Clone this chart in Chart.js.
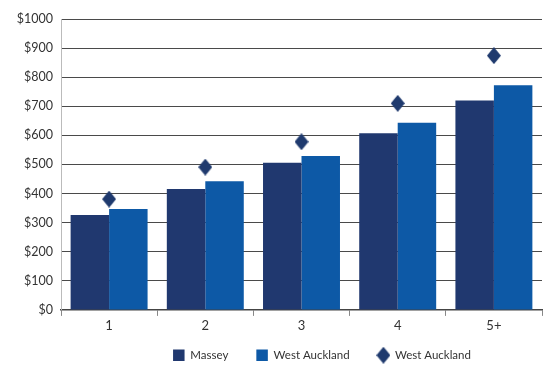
<!DOCTYPE html>
<html>
<head>
<meta charset="utf-8">
<script src="https://cdn.jsdelivr.net/npm/chart.js@4"></script>
<style>
html,body{margin:0;padding:0;background:#fff;}
#wrap{width:550px;height:367px;}
</style>
</head>
<body>
<div id="wrap"><canvas id="c" width="550" height="367"></canvas></div>
<script>
const categories = ['1', '2', '3', '4', '5+'];
const massey = [326, 416, 506, 607, 720];
const westAucklandBars = [347, 442, 529, 643, 772];
const westAucklandPoints = [381, 491, 578, 710, 874];
const yTicks = [0, 100, 200, 300, 400, 500, 600, 700, 800, 900, 1000];

const FONT = 'Lato, "DejaVu Sans", sans-serif';

function diamond(w, h, color) {
  const c = document.createElement('canvas');
  c.width = w; c.height = h;
  const g = c.getContext('2d');
  g.fillStyle = color;
  g.beginPath();
  g.moveTo(w / 2, 0);
  g.lineTo(w, h / 2);
  g.lineTo(w / 2, h);
  g.lineTo(0, h / 2);
  g.closePath();
  g.fill();
  return c;
}
const diamondImg = diamond(14, 17, '#1f3a6e');

const legendShift = {
  id: 'legendShift',
  afterUpdate(chart) {
    const l = chart.legend;
    if (!l) return;
    const dx = 49, dy = -14;
    l.left += dx; l.right += dx; l.top += dy; l.bottom += dy;
  }
};

new Chart(document.getElementById('c'), {
  data: {
    labels: categories,
    datasets: [
      {
        type: 'line',
        label: 'West Auckland',
        data: westAucklandPoints,
        showLine: false,
        pointStyle: diamondImg,
        pointRadius: 8,
        pointHoverRadius: 8,
        backgroundColor: '#1f3a6e',
        borderColor: '#1f3a6e',
        borderWidth: 0,
        order: 0
      },
      {
        type: 'bar',
        label: 'Massey',
        data: massey,
        backgroundColor: '#20386f',
        borderWidth: 0,
        categoryPercentage: 0.8,
        barPercentage: 1.0,
        pointStyle: 'rect',
        order: 1
      },
      {
        type: 'bar',
        label: 'West Auckland',
        data: westAucklandBars,
        backgroundColor: '#0d59a6',
        borderWidth: 0,
        categoryPercentage: 0.8,
        barPercentage: 1.0,
        pointStyle: 'rect',
        order: 1
      }
    ]
  },
  plugins: [legendShift],
  options: {
    responsive: false,
    animation: false,
    devicePixelRatio: 1,
    layout: { padding: { left: 0, right: 4, top: 19, bottom: -18 } },
    plugins: {
      tooltip: { enabled: false },
      legend: {
        position: 'bottom',
        labels: {
          usePointStyle: true,
          boxWidth: 12,
          boxHeight: 12,
          padding: 28,
          color: '#333',
          font: { family: FONT, size: 11.5 },
          sort: (a, b) => {
            const ord = [1, 2, 0];
            return ord.indexOf(a.datasetIndex) - ord.indexOf(b.datasetIndex);
          }
        }
      }
    },
    scales: {
      x: {
        offset: true,
        grid: {
          offset: true,
          drawOnChartArea: false,
          drawTicks: true,
          tickLength: 6,
          color: '#888'
        },
        border: { display: true, color: '#444', width: 1.5 },
        ticks: { color: '#333', font: { family: FONT, size: 13 }, padding: 2 }
      },
      y: {
        min: 0,
        max: 1000,
        afterBuildTicks: (axis) => { axis.ticks = yTicks.map(v => ({ value: v })); },
        afterFit: (axis) => { axis.width = 61; },
        grid: { color: '#4a4a4a', lineWidth: 1, drawTicks: false },
        border: { display: true, color: '#bbb', width: 1 },
        ticks: {
          color: '#333',
          padding: 8,
          font: { family: FONT, size: 12.5 },
          callback: (v) => '$' + v
        }
      }
    }
  }
});
</script>
</body>
</html>
